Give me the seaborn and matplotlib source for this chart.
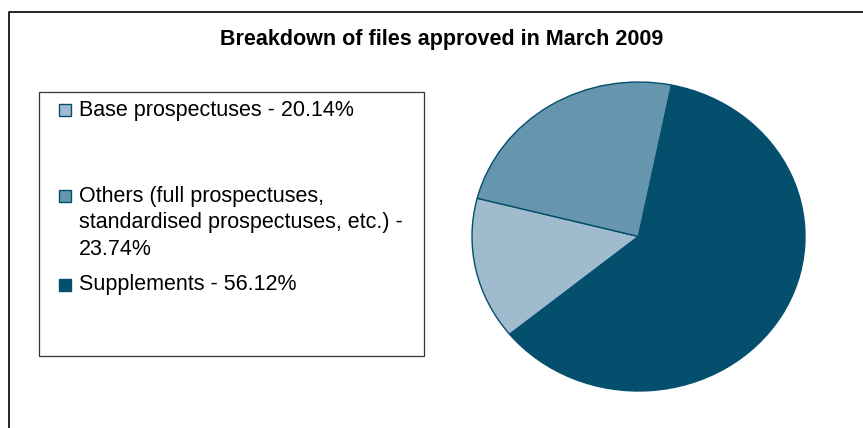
import seaborn as sns
import matplotlib.pyplot as plt
from matplotlib.patches import Rectangle

# data
categories = ['Base prospectuses', 'Others (full prospectuses,\nstandardised prospectuses, etc.)', 'Supplements']
percent_labels = ['20.14%', '23.74%', '56.12%']
# slice sizes as drawn in the picture
slice_sizes = [14.9, 24.2, 60.9]
colors = ['#a0bbcd', '#6596ae', '#044f6e']
edge = '#044f6e'

sns.set_style('white')
plt.rcParams['font.family'] = ['Liberation Sans', 'DejaVu Sans']

W, H = 863, 428
fig = plt.figure(figsize=(W / 100, H / 100), dpi=100)

# background layer in pixel coordinates
bg = fig.add_axes([0, 0, 1, 1])
bg.set_xlim(0, W)
bg.set_ylim(H, 0)
bg.axis('off')

# outer frame (runs off the right and bottom edges)
bg.plot([8.5, 8.5, W + 5], [H + 5, 11.5, 11.5], color='black', lw=1.2, solid_capstyle='butt')

bg.text(442, 45, 'Breakdown of files approved in March 2009', ha='center', va='baseline',
        fontsize=15.5, fontweight='bold', color='black')

# legend box
bg.add_patch(Rectangle((38.5, 91.5), 385, 264, fill=False, edgecolor='#333333', lw=0.9))
baselines = [115.5, 201.5, 290]
line_gap = 26.5
for name, pct, col, yb in zip(categories, percent_labels, colors, baselines):
    bg.add_patch(Rectangle((58.5, yb - 11.5), 12, 12, facecolor=col, edgecolor=edge, lw=1.0))
    if '\n' in name:
        first, second = name.split('\n')
        lines = [first, second + ' -', pct]
    else:
        lines = [name + ' - ' + pct]
    for i, line in enumerate(lines):
        bg.text(79, yb + i * line_gap, line, ha='left', va='baseline', fontsize=15.5, color='black')

# pie
ax = fig.add_axes([472 / W, (H - 391) / H, 333 / W, 309 / H])
ax.pie(slice_sizes, colors=colors, startangle=219.3, counterclock=False,
       wedgeprops={'edgecolor': edge, 'linewidth': 1.0})
ax.set_aspect('auto')
ax.set_xlim(-1, 1)
ax.set_ylim(-1, 1)
ax.axis('off')

fig.savefig('out.png', dpi=100)
